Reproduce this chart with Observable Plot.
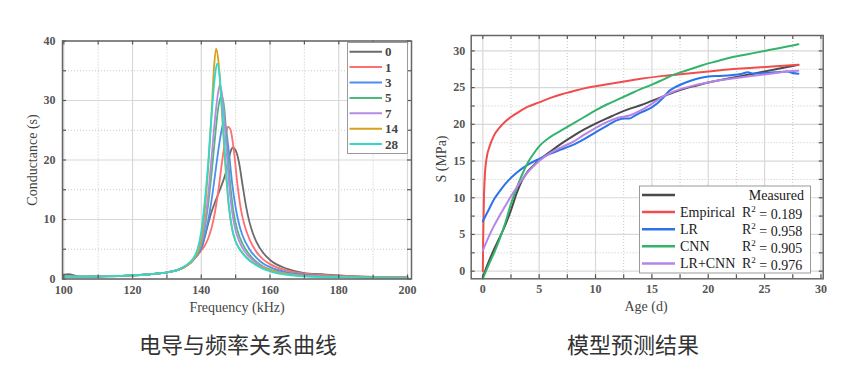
<!DOCTYPE html>
<html><head><meta charset="utf-8">
<script src="https://cdn.jsdelivr.net/npm/d3@7"></script>
<script src="https://cdn.jsdelivr.net/npm/@observablehq/plot@0.6"></script>
<style>
body{margin:0;background:#fff;}
#wrap{position:relative;width:865px;height:374px;overflow:hidden;background:#fff;}
#wrap svg{position:absolute;top:0;}
.cap{position:absolute;font-family:"Noto Sans CJK SC";font-size:22px;color:#333;transform:translate(-50%,-50%);white-space:nowrap;}
.axl{position:absolute;font-family:"Liberation Serif";font-size:14px;color:#444;transform:translate(-50%,-50%);white-space:nowrap;}
</style></head><body><div id="wrap"></div><script>
// ---------- Left chart data: conductance vs frequency ----------
const leftSeries = ["0","1","3","5","7","14","28"];
const leftColors = ["#6b6b6b","#ff6f6f","#4f8ef0","#4cb87c","#b68ae6","#d6a21e","#2fd9d0"];
const g0 = [[100,0.75],[101.5,0.8],[103,0.6],[105,0.4],[110,0.4],[120,0.6],[125,0.8],[130,1.1],[133,1.5],[135,2.0],[137,2.8],[138,3.4],[139,4.1],[140,5.0],[141,7.0],[142,9.3],[143,11.3],[144,12.9],[145,14.4],[146,15.9],[147,17.6],[148,20.2],[148.7,21.7],[149.2,22.1],[150,21.6],[151,19.5],[152,15.8],[153,12.3],[154,9.6],[155,7.7],[156,6.3],[158,4.4],[160,3.2],[165,1.7],[170,1.0],[175,0.8],[180,0.6],[190,0.35],[200,0.25]];
const g1 = [[100,0.5],[105,0.4],[110,0.45],[120,0.6],[125,0.8],[130,1.1],[133,1.5],[135,2.0],[137,2.8],[138,3.4],[139,4.1],[140,4.8],[141,5.6],[142,6.8],[143,8.6],[144,11.3],[145,15],[146,19.5],[147,23.5],[147.8,25.6],[148.5,25.1],[149.5,21.5],[150.5,16],[151.5,11.8],[152.5,9.2],[154,6.7],[156,4.6],[158,3.3],[160,2.5],[165,1.4],[170,0.9],[180,0.55],[190,0.35],[200,0.25]];
const g3 = [[100,0.5],[105,0.4],[110,0.45],[120,0.6],[125,0.8],[130,1.1],[133,1.5],[135,2.0],[137,2.8],[138,3.4],[139,4.2],[140,5.2],[141,7.2],[142,9.8],[143,13.3],[144,17.5],[145,21.8],[146,25.3],[146.5,26.3],[147.2,25.2],[148,21.5],[149,16],[150,12],[151,9.2],[152,7.3],[154,5],[156,3.6],[158,2.6],[160,2.0],[165,1.1],[170,0.75],[180,0.45],[190,0.3],[200,0.2]];
const g5 = [[100,0.45],[105,0.4],[110,0.45],[120,0.6],[125,0.8],[130,1.1],[133,1.5],[135,2.0],[137,2.8],[138,3.5],[139,4.4],[140,5.8],[141,8.5],[142,12.5],[143,17.8],[144,23.8],[145,29],[145.9,30.8],[146.7,28.6],[147.5,22.5],[148.5,15.5],[149.5,10.8],[150.5,8.2],[152,5.9],[154,4.1],[156,2.9],[158,2.1],[160,1.6],[165,0.9],[170,0.6],[180,0.4],[190,0.25],[200,0.2]];
const g7 = [[100,0.45],[105,0.4],[110,0.45],[120,0.6],[125,0.8],[130,1.1],[133,1.5],[135,2.0],[137,2.8],[138,3.5],[139,4.5],[140,6.2],[141,9.3],[142,14],[143,20.5],[144,27],[145,31.7],[145.4,32.6],[146,31.2],[147,24.5],[148,16.5],[149,11.2],[150,8.1],[151,6.4],[152,5.2],[154,3.7],[156,2.7],[158,2.0],[160,1.5],[165,0.85],[170,0.55],[180,0.35],[190,0.25],[200,0.2]];
const g14 = [[100,0.4],[105,0.4],[110,0.45],[120,0.6],[125,0.8],[130,1.1],[133,1.5],[135,2.0],[137,2.8],[138,3.6],[139,4.6],[140,7],[141,11.5],[142,18.5],[143,28],[143.7,35.5],[144.3,38.7],[145,36.5],[146,28],[147,19],[148,12.2],[149,8.3],[150,6.3],[151,5.2],[152,4.4],[154,3.2],[156,2.4],[158,1.9],[160,1.5],[165,0.8],[170,0.5],[180,0.35],[190,0.25],[200,0.2]];
const g28 = [[100,0.4],[105,0.4],[110,0.45],[120,0.6],[125,0.8],[130,1.1],[133,1.5],[135,2.1],[137,3.0],[138,3.8],[139,5.2],[140,8],[141,13],[142,19.5],[143,27.5],[144,34.2],[144.6,36.2],[145.3,34.5],[146,29],[147,20],[148,12.5],[149,8.4],[150,6.3],[151,5.1],[152,4.3],[154,3.1],[156,2.3],[158,1.7],[160,1.3],[165,0.7],[170,0.45],[180,0.3],[190,0.2],[200,0.15]];
const leftData = [g0,g1,g3,g5,g7,g14,g28];
const xTicksL = [100,120,140,160,180,200];
const xMinorL = [110,130,150,170,190];
const yTicksL = [0,10,20,30,40];
const yMinorL = [5,15,25,35];

// ---------- Right chart data: model predictions ----------
const rightSeries = ["Measured","Empirical","LR","CNN","LR+CNN"];
const rightR2 = ["", "0.189","0.958","0.905","0.976"];
const rightColors = ["#4a4a4a","#f24c4c","#2a73e8","#33b36b","#b784e8"];
const measured = [[0,-0.8],[0.5,1.2],[1,3],[1.5,4.6],[2,6.3],[2.5,8.3],[3,10.6],[3.5,12.4],[4,13.6],[4.5,14.4],[5,15.1],[6,16.3],[7,17.4],[8,18.4],[9,19.3],[10,20.1],[11,20.8],[12,21.5],[13,22.1],[14,22.6],[15,23.2],[16,23.8],[17,24.4],[18,24.9],[19,25.3],[20,25.7],[21,26],[22,26.3],[23,26.6],[24,26.9],[25,27.2],[26,27.5],[27,27.8],[28,28.1]];
const empirical = [[0,0],[0.04,5],[0.1,10],[0.2,13.5],[0.35,15.5],[0.6,17],[1,18.5],[1.5,19.6],[2,20.4],[3,21.5],[4,22.4],[5,23],[6,23.6],[7,24.1],[8,24.5],[9,24.9],[10,25.2],[12,25.7],[14,26.2],[16,26.6],[18,26.9],[20,27.2],[22,27.5],[24,27.7],[26,27.9],[28,28.1]];
const lr = [[0,6.8],[0.5,8.3],[1,9.8],[1.5,10.9],[2,11.9],[3,13.4],[4,14.5],[5,15.3],[6,16],[7,16.6],[7.5,16.9],[8,17.2],[9,18],[10,18.9],[11,19.8],[12,20.6],[12.5,20.8],[13,20.8],[13.5,21.2],[14,21.6],[15,22.3],[16,23.6],[16.5,24.5],[17,25.0],[18,25.7],[19,26.2],[20,26.5],[21,26.6],[22,26.7],[23,26.9],[23.5,27.1],[24,26.9],[25,27],[26,27.1],[27,27.2],[27.5,27],[28,26.9]];
const cnn = [[0,-1],[0.5,0.8],[1,2.5],[1.5,4.4],[2,6.6],[2.5,9.2],[3,11.3],[3.5,13.2],[4,14.8],[4.5,16],[5,17],[6,18.3],[7,19.2],[8,20.1],[9,21],[10,21.9],[11,22.7],[12,23.4],[13,24.1],[14,24.8],[15,25.4],[16,26.1],[17,26.8],[18,27.3],[19,27.8],[20,28.3],[21,28.7],[22,29.1],[23,29.4],[24,29.7],[25,30],[26,30.3],[27,30.6],[28,30.9]];
const lrcnn = [[0,2.8],[0.5,4.6],[1,6.2],[1.5,7.6],[2,8.9],[2.5,10.2],[3,11.4],[3.5,12.5],[4,13.5],[5,15],[6,16.1],[7,16.9],[8,17.6],[9,18.6],[10,19.5],[11,20.3],[12,20.9],[13,21.2],[14,21.9],[15,22.8],[16,23.8],[17,24.5],[18,25],[19,25.4],[20,25.7],[21,26],[22,26.2],[23,26.4],[24,26.6],[25,26.8],[26,27],[27,27.2],[28,27.3]];
const rightData = [measured,empirical,lr,cnn,lrcnn];
const xTicksR = [0,5,10,15,20,25,30];
const xMinorR = [2.5,7.5,12.5,17.5,22.5,27.5];
const yTicksR = [0,5,10,15,20,25,30];
const yMinorR = [2.5,7.5,12.5,17.5,22.5,27.5];

const captions = ["电导与频率关系曲线","模型预测结果"];

// ---------- helpers ----------
const wrap = document.getElementById("wrap");
const serif = "Liberation Serif";

function frameTicks(xt, yt, iw, ih, len) {
  return [
    Plot.tickX(xt, {x: d => d, insetTop: ih - len, stroke: "#555", strokeWidth: 1.2}),
    Plot.tickX(xt, {x: d => d, insetBottom: ih - len, stroke: "#555", strokeWidth: 1.2}),
    Plot.tickY(yt, {y: d => d, insetRight: iw - len, stroke: "#555", strokeWidth: 1.2}),
    Plot.tickY(yt, {y: d => d, insetLeft: iw - len, stroke: "#555", strokeWidth: 1.2})
  ];
}

// ---------- Left plot ----------
{
  const W = 430, H = 320, mL = 62, mR = 19, mT = 40.5, mB = 41.5;
  const iw = W - mL - mR, ih = H - mT - mB;
  const rows = leftData.flatMap((arr, i) => arr.map(([f, g]) => ({f, g, s: leftSeries[i]})));
  const p = Plot.plot({
    width: W, height: H, marginLeft: mL, marginRight: mR, marginTop: mT, marginBottom: mB,
    style: {background: "transparent", fontFamily: serif, fontSize: "12px", color: "#555", fontWeight: "bold"},
    x: {domain: [99.62, 201.16]},
    y: {domain: [0, 40]},
    color: {domain: leftSeries, range: leftColors},
    marks: [
      Plot.gridX(xMinorL, {stroke: "#bbb", strokeOpacity: 0.8, strokeDasharray: "1,2"}),
      Plot.gridY(yMinorL, {stroke: "#bbb", strokeOpacity: 0.8, strokeDasharray: "1,2"}),
      Plot.gridX(xTicksL, {stroke: "#d8d8d8", strokeOpacity: 1, strokeWidth: 1.2}),
      Plot.gridY(yTicksL, {stroke: "#d8d8d8", strokeOpacity: 1, strokeWidth: 1.2}),
      Plot.line(rows, {x: "f", y: "g", z: "s", stroke: "s", curve: "monotone-x", strokeWidth: 1.8}),
      ...frameTicks(xTicksL.concat(xMinorL), yTicksL.concat(yMinorL), iw, ih, 4),
      Plot.frame({stroke: "#666", strokeWidth: 1.5}),
      Plot.axisX({ticks: xTicksL, tickSize: 0, tickPadding: 6, label: null}),
      Plot.axisY({ticks: yTicksL, tickSize: 0, tickPadding: 7, label: null})
    ]
  });
  p.style.left = "0px";
  wrap.appendChild(p);
}

// ---------- Right plot ----------
{
  const W = 435, H = 320, mL = 40.7, mR = 42.3, mT = 35, mB = 41.7;
  const iw = W - mL - mR, ih = H - mT - mB;
  const rows = rightData.flatMap((arr, i) => arr.map(([a, s]) => ({a, s, k: rightSeries[i]})));
  const p = Plot.plot({
    width: W, height: H, marginLeft: mL, marginRight: mR, marginTop: mT, marginBottom: mB,
    style: {background: "transparent", fontFamily: serif, fontSize: "12px", color: "#555", fontWeight: "bold"},
    x: {domain: [-1.03, 30.2]},
    y: {domain: [-1.04, 32.1]},
    color: {domain: rightSeries, range: rightColors},
    marks: [
      Plot.gridX(xMinorR, {stroke: "#bbb", strokeOpacity: 0.8, strokeDasharray: "1,2"}),
      Plot.gridY(yMinorR, {stroke: "#bbb", strokeOpacity: 0.8, strokeDasharray: "1,2"}),
      Plot.gridX(xTicksR, {stroke: "#d8d8d8", strokeOpacity: 1, strokeWidth: 1.2}),
      Plot.gridY(yTicksR, {stroke: "#d8d8d8", strokeOpacity: 1, strokeWidth: 1.2}),
      Plot.line(rows, {x: "a", y: "s", z: "k", stroke: "k", curve: "monotone-x", strokeWidth: 2}),
      ...frameTicks(xTicksR.concat(xMinorR), yTicksR.concat(yMinorR), iw, ih, 4),
      Plot.frame({stroke: "#666", strokeWidth: 1.5}),
      Plot.axisX({ticks: xTicksR, tickSize: 0, tickPadding: 6, label: null}),
      Plot.axisY({ticks: yTicksR, tickSize: 0, tickPadding: 6, label: null})
    ]
  });
  p.style.left = "430px";
  wrap.appendChild(p);
}

// ---------- Legends (overlay svg) ----------
{
  const svg = d3.select(wrap).append("svg")
    .attr("width", 865).attr("height", 374).style("left", "0px").style("pointer-events", "none");
  // left legend
  const gl = svg.append("g").attr("font-family", serif).attr("font-size", 13).attr("font-weight", "bold").attr("fill", "#444");
  gl.append("rect").attr("x", 347.5).attr("y", 42.5).attr("width", 60).attr("height", 111)
    .attr("fill", "#fff").attr("stroke", "#9a9a9a").attr("stroke-width", 1);
  leftSeries.forEach((s, i) => {
    const y = 51.7 + i * 15.4;
    gl.append("line").attr("x1", 349.5).attr("x2", 382).attr("y1", y).attr("y2", y)
      .attr("stroke", leftColors[i]).attr("stroke-width", 2);
    gl.append("text").attr("x", 385).attr("y", y).attr("dy", "0.35em").text(s);
  });
  // right legend
  const gr = svg.append("g").attr("font-family", serif).attr("font-size", 14).attr("fill", "#1a1a1a");
  gr.append("rect").attr("x", 639.5).attr("y", 186).attr("width", 171).attr("height", 87)
    .attr("fill", "#fff").attr("stroke", "#9a9a9a").attr("stroke-width", 1);
  rightSeries.forEach((s, i) => {
    const y = 195 + i * 17.1;
    gr.append("line").attr("x1", 642).attr("x2", 675).attr("y1", y).attr("y2", y)
      .attr("stroke", rightColors[i]).attr("stroke-width", 2.5);
    if (i === 0) {
      gr.append("text").attr("x", 804).attr("y", y).attr("dy", "0.35em").attr("text-anchor", "end").text(s);
    } else {
      gr.append("text").attr("x", 680).attr("y", y).attr("dy", "0.35em").text(s);
      const t = gr.append("text").attr("x", 742).attr("y", y).attr("dy", "0.35em");
      t.append("tspan").text("R");
      t.append("tspan").attr("font-size", 9).attr("dy", "-0.6em").text("2");
      t.append("tspan").attr("dy", "0.5em").text(" = " + rightR2[i]);
    }
  });
}

// ---------- Axis titles and captions ----------
function addText(cls, txt, x, y, rot) {
  const d = document.createElement("div");
  d.className = cls; d.textContent = txt;
  d.style.left = x + "px"; d.style.top = y + "px";
  if (rot) d.style.transform = "translate(-50%,-50%) rotate(-90deg)";
  wrap.appendChild(d);
}
addText("axl", "Frequency (kHz)", 237, 307.5);
addText("axl", "Conductance (s)", 33, 160, true);
addText("axl", "Age (d)", 646, 307);
addText("axl", "S (MPa)", 442, 159, true);
addText("cap", captions[0], 238, 343);
addText("cap", captions[1], 633, 343);
</script></body></html>
